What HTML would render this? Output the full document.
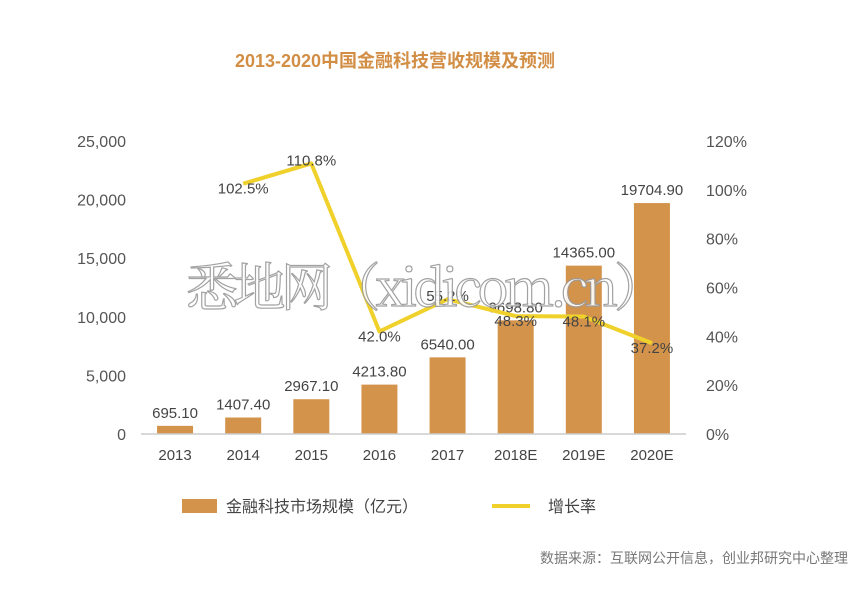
<!DOCTYPE html>
<html><head><meta charset="utf-8"><style>
body{margin:0;background:#fff;width:864px;height:589px;overflow:hidden;font-family:"Liberation Sans","Noto Sans CJK SC",sans-serif}
svg text{font-family:"Liberation Sans","Noto Sans CJK SC",sans-serif}
</style></head><body>
<svg id="c" width="864" height="589">
<text x="395" y="67" text-anchor="middle" font-size="18" font-weight="bold" fill="#d28e45">2013-2020中国金融科技营收规模及预测</text>
<g id="plot"></g>
<rect x="182" y="499" width="35" height="14" fill="#d4934a"/>
<text x="226" y="512" font-size="16" fill="#444">金融科技市场规模（亿元）</text>
<line x1="492" y1="506" x2="530" y2="506" stroke="#f0d12c" stroke-width="4"/>
<text x="548" y="512" font-size="16" fill="#444">增长率</text>
<text x="848" y="563" text-anchor="end" font-size="14" fill="#777">数据来源：互联网公开信息，创业邦研究中心整理</text>
<text x="186" y="306" font-size="52" style="font-family:'Noto Serif CJK SC','Liberation Serif',serif" fill="#fff" stroke="#999" stroke-width="1.2" opacity="0.9" textLength="480">悉地网（xidicom.cn）</text>
</svg>
<script>
const categories=["2013","2014","2015","2016","2017","2018E","2019E","2020E"];
const revenue=[695.10,1407.40,2967.10,4213.80,6540.00,9698.80,14365.00,19704.90];
const growth=[null,102.5,110.8,42.0,55.2,48.3,48.1,37.2];
const leftTicks=[0,5000,10000,15000,20000,25000];
const rightTicks=[0,20,40,60,80,100,120];
const NS="http://www.w3.org/2000/svg";
const g=document.getElementById('plot');
const y0=434,yTop=141,x0=141,x1=686;
const yL=v=>y0-v/25000*(y0-yTop);
const yR=v=>y0-v/120*(y0-yTop);
const step=(x1-x0)/categories.length;
const xC=i=>x0+step*(i+0.5);
function mk(t,a){const e=document.createElementNS(NS,t);for(const k in a)e.setAttribute(k,a[k]);g.appendChild(e);return e;}
leftTicks.forEach(v=>{const t=mk('text',{x:126,y:yL(v)+6,'text-anchor':'end','font-size':16,fill:'#555'});t.textContent=v.toLocaleString('en-US');

});
rightTicks.forEach(v=>{const t=mk('text',{x:706,y:yR(v)+6,'font-size':16,fill:'#555'});t.textContent=v+'%';

});
revenue.forEach((v,i)=>{const r=mk('rect',{x:xC(i)-18,y:yL(v),width:36,height:y0-yL(v),fill:'#d4934a'});


const t=mk('text',{x:xC(i),y:yL(v)-8,'text-anchor':'middle','font-size':15,fill:'#444'});t.textContent=v.toFixed(2);

});
const ax=mk('line',{x1:x0,y1:y0,x2:x1,y2:y0,stroke:'#ccc','stroke-width':1.5});


categories.forEach((c,i)=>{const t=mk('text',{x:xC(i),y:460,'text-anchor':'middle','font-size':15,fill:'#444'});t.textContent=c;

});
const pts=growth.map((v,i)=>v==null?null:[xC(i),yR(v)]).filter(p=>p);
const pl=mk('polyline',{points:pts.map(p=>p.join(',')).join(' '),fill:'none',stroke:'#f0d12c','stroke-width':4,'stroke-linejoin':'round'});


growth.forEach((v,i)=>{if(v==null)return;const t=mk('text',{x:xC(i),y:yR(v)+(i===2||i===4?2:10),'text-anchor':'middle','font-size':15,fill:'#444'});t.textContent=v.toFixed(1)+'%';

});
</script>
</body></html>
